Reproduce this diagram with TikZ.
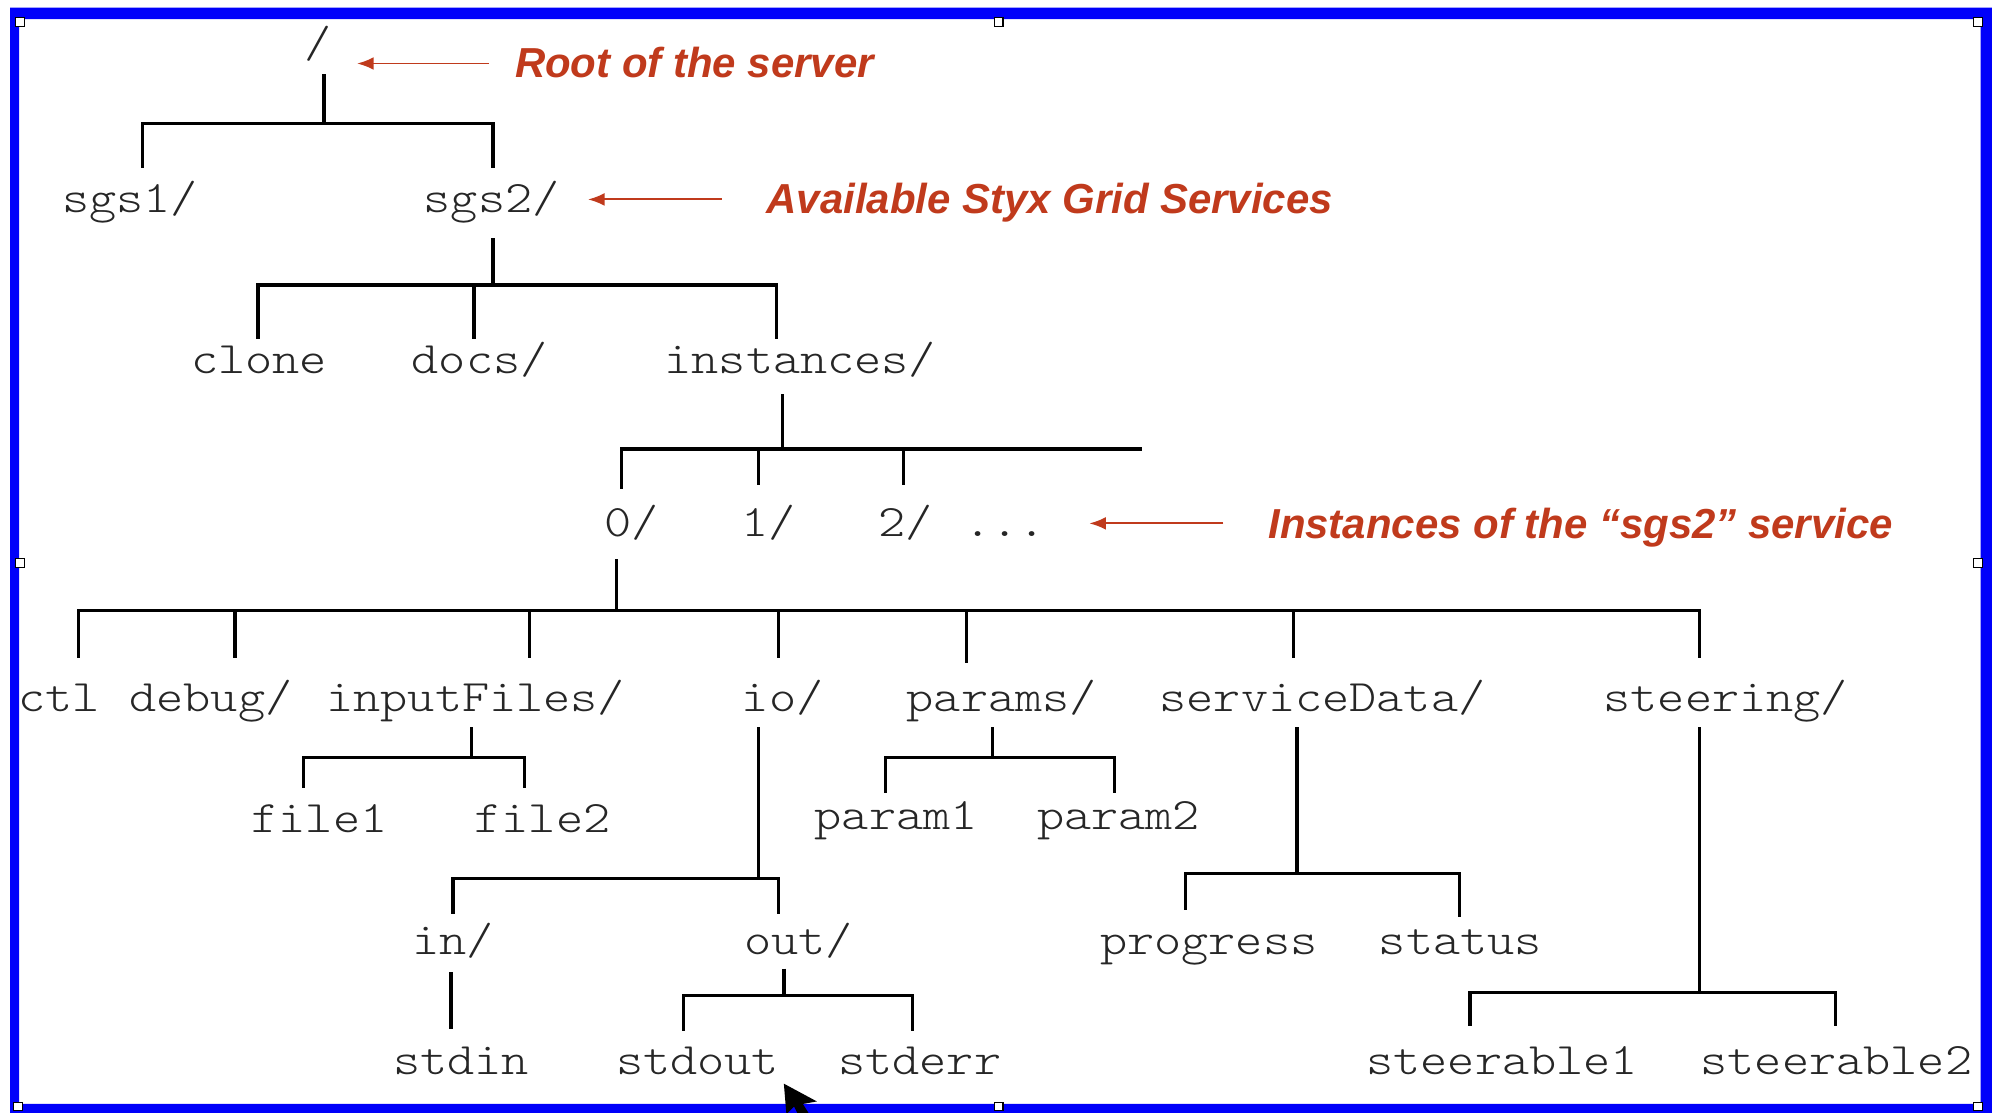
\documentclass[tikz,border=0pt]{standalone}
\usepackage{fontspec}
\newfontfamily\treefont{lmmonolt10-regular.otf}[FakeStretch=1.15]
\newfontfamily\lblfont{Liberation Sans}
\usetikzlibrary{calc,arrows.meta}
\definecolor{redc}{RGB}{192,58,28}
\definecolor{framec}{RGB}{0,0,250}
\begin{document}
\begin{tikzpicture}[x=0.5pt,y=-0.5pt,
  fs/.style={font=\treefont\fontsize{17.7pt}{20pt}\selectfont, text=black!85, inner sep=0pt, anchor=base, text height=17pt, text depth=7pt},
  lbl/.style={font=\lblfont\bfseries\itshape\fontsize{16.5pt}{19pt}\selectfont, text=redc, inner sep=0pt, anchor=base west},
  tree/.style={line width=1.3pt, draw=black},
  redarrow/.style={draw=redc, line width=0.75pt, -{Latex[length=6.5pt,width=5pt]}},
  handle/.style={draw=black, fill=white, line width=0.4pt}
]
\useasboundingbox (0,0) rectangle (1568,876);
\fill[white] (0,0) rectangle (1568,876);

% nodes
\node[fs] (root) at (250,45) {/};
\node[fs] (sgs1) at (102.5,167) {sgs1/};
\node[fs] (sgs2) at (387,167) {sgs2/};
\node[fs] (clone) at (204,294) {clone};
\node[fs] (docs) at (377.5,294) {docs/};
\node[fs] (inst) at (630,294) {instances/};
\node[fs] (i0) at (497,422) {0/};
\node[fs] (i1) at (605,422) {1/};
\node[fs] (i2) at (713,422) {2/};
\node[fs] (idots) at (791,422) {...};
\node[fs] (ctl) at (46.5,560) {ctl};
\node[fs] (debug) at (166,560) {debug/};
\node[fs] (inpf) at (374.5,560) {inputFiles/};
\node[fs] (io) at (616,560) {io/};
\node[fs] (params) at (788.5,560) {params/};
\node[fs] (sd) at (1041,560) {serviceData/};
\node[fs] (steer) at (1358.5,560) {steering/};
\node[fs] (file1) at (251.5,655) {file1};
\node[fs] (file2) at (427,655) {file2};
\node[fs] (param1) at (705.5,653) {param1};
\node[fs] (param2) at (880.5,653) {param2};
\node[fs] (in) at (356.5,751) {in/};
\node[fs] (out) at (628.5,751) {out/};
\node[fs] (progress) at (951.5,751) {progress};
\node[fs] (status) at (1149.5,751) {status};
\node[fs] (stdin) at (363,846) {stdin};
\node[fs] (stdout) at (549,846) {stdout};
\node[fs] (stderr) at (724,846) {stderr};
\node[fs] (st1) at (1182.5,846) {steerable1};
\node[fs] (st2) at (1445.5,846) {steerable2};

% labels
\node[lbl] (lroot) at (405,61) {Root of the server};
\node[lbl] (lsgs) at (603,168) {Available Styx Grid Services};
\node[lbl] (linst) at (998,424) {Instances of the “sgs2” service};

% red arrows
\draw[redarrow] ($(lroot.base west)+(-20,-11)$) -- ($(root.base east)+(20,5)$);
\draw[redarrow] ($(lsgs.base west)+(-35,-11)$) -- ($(sgs2.base east)+(22,-10)$);
\draw[redarrow] ($(linst.base west)+(-35,-12)$) -- ($(idots.base east)+(34,-10)$);

% tree connectors
\draw[tree] ($(root.south)+(5,-1)$) -- ++(0,39) coordinate (b0);
\draw[tree] (b0) -| ($(sgs1.north)+(9.5,0)$);
\draw[tree] (b0) -| ($(sgs2.north)+(1,0)$);

\draw[tree] ($(sgs2.south)+(1,6)$) -- ++(0,37) coordinate (b1);
\draw[tree] (b1) -| ($(clone.north)+(-1,7)$);
\draw[tree] (b1) -| ($(docs.north)+(-4.5,7)$);
\draw[tree] (b1) -| ($(inst.north)+(-19,7)$);

\draw[tree] ($(inst.south)+(-14,2)$) -- ++(0,43) coordinate (b2);
\draw[tree] (b2) -| ($(i0.north)+(-8,-3)$);
\draw[tree] (b2) -| ($(i1.north)+(-8,-6)$);
\draw[tree] (b2) -| ($(i2.north)+(-2,-6)$);
\draw[tree] (b2) -- ++(283,0) coordinate (b2end);

\draw[tree] ($(i0.south)+(-12,4)$) -- ++(0,40) coordinate (b3);
\draw[tree] (b3) -| ($(ctl.north)+(15.5,-8)$);
\draw[tree] (b3) -| ($(debug.north)+(19,-8)$);
\draw[tree] (b3) -| ($(inpf.north)+(42.5,-8)$);
\draw[tree] (b3) -| ($(io.north)+(-3,-8)$);
\draw[tree] (b3) -| ($(params.north)+(-27.5,-4)$);
\draw[tree] (b3) -| ($(sd.north)+(-23,-8)$);
\draw[tree] (b3) -| ($(steer.north)+(-20.5,-8)$);

\draw[tree] ($(inpf.south)+(-3.5,-2)$) -- ++(0,24) coordinate (b4);
\draw[tree] (b4) -| ($(file1.north)+(-12.5,0)$);
\draw[tree] (b4) -| ($(file2.north)+(-14,0)$);

\draw[tree] ($(params.south)+(-7.5,-2)$) -- ++(0,24) coordinate (b5);
\draw[tree] (b5) -| ($(param1.north)+(-8.5,6)$);
\draw[tree] (b5) -| ($(param2.north)+(-3.5,6)$);

\draw[tree] ($(io.south)+(-19,-2)$) -- ++(0,119) coordinate (b6);
\draw[tree] (b6) -| ($(in.north)+(0,3)$);
\draw[tree] (b6) -| ($(out.north)+(-15.5,3)$);

\draw[tree] ($(in.south)+(-1.5,0)$) -- ($(stdin.north)+(-8,-2)$);

\draw[tree] ($(out.south)+(-11.5,-3)$) -- ++(0,21) coordinate (b7);
\draw[tree] (b7) -| ($(stdout.north)+(-11,0)$);
\draw[tree] (b7) -| ($(stderr.north)+(-6,0)$);

\draw[tree] ($(sd.south)+(-20,-2)$) -- ++(0,115) coordinate (b8);
\draw[tree] (b8) -| ($(progress.north)+(-18.5,0)$);
\draw[tree] (b8) -| ($(status.north)+(-0.5,5)$);

\draw[tree] ($(steer.south)+(-20.5,-2)$) -- ++(0,209) coordinate (b9);
\draw[tree] (b9) -| ($(st1.north)+(-25.5,-4)$);
\draw[tree] (b9) -| ($(st2.north)+(-0.5,-4)$);

% frame
\fill[framec, even odd rule] (8,6) rectangle (1568,876) (15,15) rectangle (1559,869);
\foreach \hx/\hy in {16/17,786/17,1557/17,16/443,1557/443,14/871,786/871,1557/871}
  \draw[handle] (\hx-3.5,\hy-3.5) rectangle ++(7,7);

% mouse cursor
\fill[black] (617,853) -- (643,867) -- (632,869) -- (637,877) -- (628,877) -- (625,871) -- (619,877) -- cycle;
\end{tikzpicture}
\end{document}
